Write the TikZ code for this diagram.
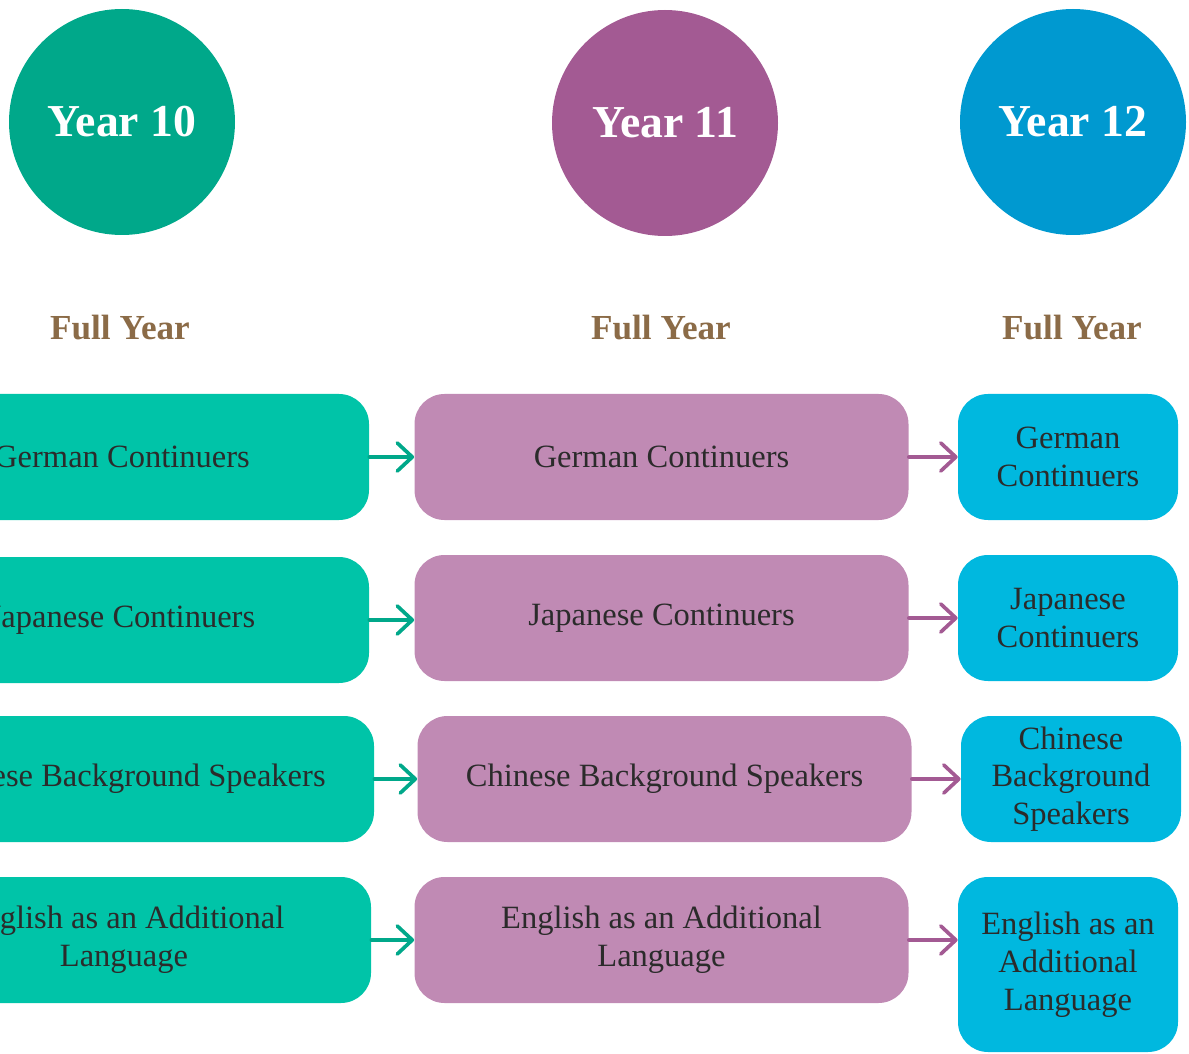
\documentclass[tikz,border=0pt]{standalone}
\usepackage{fontspec}
\setmainfont{Liberation Serif}
\usetikzlibrary{arrows.meta}

\definecolor{tealdark}{HTML}{00A88A}
\definecolor{tealbox}{HTML}{00C4A8}
\definecolor{plumdark}{HTML}{A35A93}
\definecolor{plumbox}{HTML}{C08AB4}
\definecolor{skydark}{HTML}{0099D0}
\definecolor{skybox}{HTML}{00B8DF}
\definecolor{fullbrown}{HTML}{8B6B47}
\definecolor{ink}{HTML}{2B2B2B}

\tikzset{
	yearcircle/.style={circle, minimum size=4.52cm, inner sep=0pt, text=white, font=\fontsize{26}{30}\selectfont\bfseries},
	termlabel/.style={text=fullbrown, font=\fontsize{20}{24}\selectfont\bfseries},
	subjectbox/.style={rounded corners=0.6cm, minimum width=9.88cm, minimum height=2.52cm, align=center, text=ink, font=\fontsize{18.5}{21.5}\selectfont},
	narrowbox/.style={subjectbox, minimum width=4.4cm},
	flowarrow/.style={line width=2.1pt, line cap=round, -{Straight Barb[length=3mm, width=5.6mm, round]}}
}

\begin{document}
\begin{tikzpicture}
		\clip (0,0) rectangle (23.78,-21.08);
		% year circles
		\node[yearcircle, fill=tealdark] (y10) at (2.44,-2.44) {Year 10};
		\node[yearcircle, fill=plumdark] (y11) at (13.3,-2.46) {Year 11};
		\node[yearcircle, fill=skydark] (y12) at (21.46,-2.44) {Year 12};
		\node[termlabel] (t10) at (2.4,-6.56) {Full Year};
		\node[termlabel] (t11) at (13.22,-6.56) {Full Year};
		\node[termlabel] (t12) at (21.44,-6.56) {Full Year};
		
		% year 10
		\node[subjectbox, fill=tealbox] (g1) at (2.44,-9.14) {German Continuers};
		\node[subjectbox, fill=tealbox] (g2) at (2.44,-12.4) {Japanese Continuers};
		\node[subjectbox, fill=tealbox] (g3) at (2.54,-15.58) {Chinese Background Speakers};
		\node[subjectbox, fill=tealbox] (g4) at (2.48,-18.8) {English as an Additional\\Language};
		
		% year 11
		\node[subjectbox, fill=plumbox] (p1) at (13.23,-9.14) {German Continuers};
		\node[subjectbox, fill=plumbox] (p2) at (13.23,-12.36) {Japanese Continuers};
		\node[subjectbox, fill=plumbox] (p3) at (13.29,-15.58) {Chinese Background Speakers};
		\node[subjectbox, fill=plumbox] (p4) at (13.23,-18.8) {English as an Additional\\Language};
		
		% year 12
		\node[narrowbox, fill=skybox] (b1) at (21.36,-9.14) {German\\Continuers};
		\node[narrowbox, fill=skybox] (b2) at (21.36,-12.36) {Japanese\\Continuers};
		\node[narrowbox, fill=skybox] (b3) at (21.42,-15.58) {Chinese\\Background\\Speakers};
		\node[narrowbox, fill=skybox, minimum height=3.5cm] (b4) at (21.36,-19.29) {English as an\\Additional\\Language};
		
		\foreach \i in {1,...,4}
		{
			\draw[flowarrow, tealdark] (g\i.east) -- (g\i.east -| p\i.west);
			\draw[flowarrow, plumdark] (p\i.east) -- (p\i.east -| b\i.west);
		}
\end{tikzpicture}
\end{document}
